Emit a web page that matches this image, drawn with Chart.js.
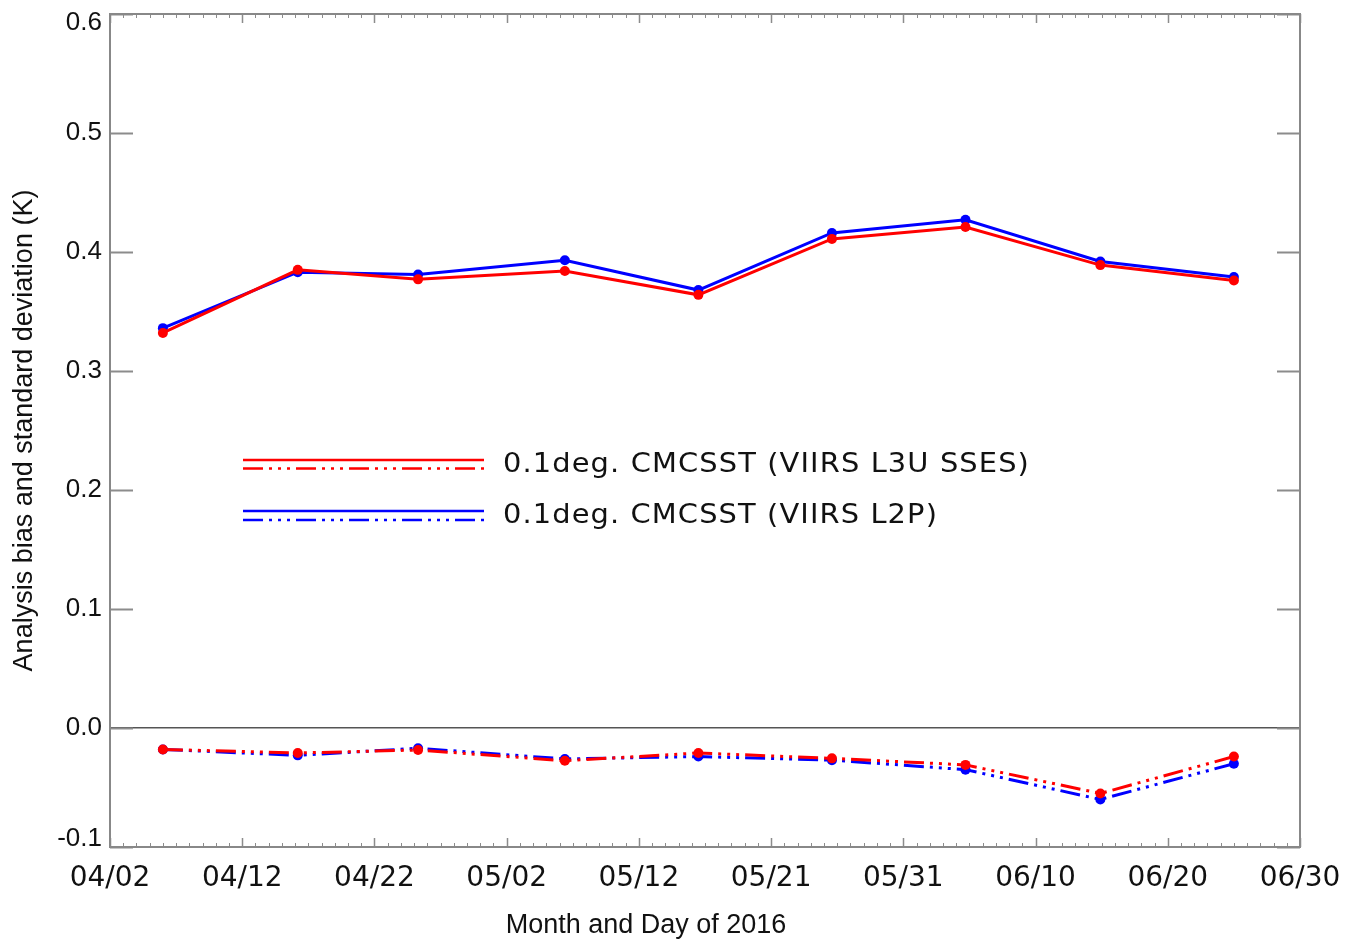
<!DOCTYPE html>
<html>
<head>
<meta charset="utf-8">
<script src="https://cdn.jsdelivr.net/npm/chart.js@4/dist/chart.umd.min.js"></script>
<style>
html,body{margin:0;padding:0;background:#fff;}
#wrap{width:1345px;height:940px;position:relative;}
</style>
</head>
<body>
<div id="wrap"><canvas id="c" width="1345" height="940"></canvas></div>
<script>
// ---- data ----
const xTickLabels = ['04/02','04/12','04/22','05/02','05/12','05/21','05/31','06/10','06/20','06/30'];
const xPositions = [4.0, 14.2, 23.3, 34.4, 44.5, 54.6, 64.7, 74.9, 85.0];
const stdL3U  = [0.332, 0.385, 0.377, 0.384, 0.364, 0.411, 0.421, 0.389, 0.376];
const stdL2P  = [0.336, 0.383, 0.381, 0.393, 0.368, 0.416, 0.427, 0.392, 0.379];
const biasL3U = [-0.018, -0.021, -0.0185, -0.0275, -0.021, -0.0255, -0.031, -0.055, -0.024];
const biasL2P = [-0.018, -0.023, -0.017, -0.026, -0.024, -0.027, -0.035, -0.060, -0.030];
const yTickLabels = ['-0.1','0.0','0.1','0.2','0.3','0.4','0.5','0.6'];
const legendLabels = ['0.1deg. CMCSST (VIIRS L3U SSES)', '0.1deg. CMCSST (VIIRS L2P)'];
const xTitle = 'Month and Day of 2016';
const yTitle = 'Analysis bias and standard deviation (K)';

const RED = '#ff0000', BLUE = '#0000ff';
const DASH = [20, 6, 3, 6, 3, 6, 3, 6];

function pts(ys){ return ys.map((y,i)=>({x:xPositions[i], y:y})); }

const common = {
  borderWidth: 3,
  pointRadius: 5,
  pointBorderWidth: 0,
  tension: 0,
  fill: false
};

const frameTicks = {
  id: 'frameTicks',
  beforeDatasetsDraw(chart){
    const ctx = chart.ctx, a = chart.chartArea;
    const xs = chart.scales.x, ys = chart.scales.y;
    ctx.save();
    ctx.strokeStyle = '#8c8c8c';
    ctx.lineWidth = 2;
    for (let i = 0; i < yTickLabels.length; i++){
      const v = -0.1 + i*0.1;
      const p = Math.round(ys.getPixelForValue(v)) + 0.5;
      ctx.beginPath();
      ctx.moveTo(a.left, p); ctx.lineTo(a.left + 23, p);
      ctx.moveTo(a.right, p); ctx.lineTo(a.right - 23, p);
      ctx.stroke();
    }
    for (let d = 0; d <= 90; d++){
      const p = Math.round(xs.getPixelForValue(d)) + 0.5;
      const major = d % 10 === 0;
      const len = major ? 9 : 4;
      ctx.lineWidth = major ? 1.5 : 1;
      ctx.beginPath();
      ctx.moveTo(p, a.bottom); ctx.lineTo(p, a.bottom - len);
      ctx.moveTo(p, a.top); ctx.lineTo(p, a.top + len);
      ctx.stroke();
    }
    ctx.lineWidth = 2;
    ctx.strokeStyle = '#888';
    ctx.strokeRect(a.left, a.top, a.right - a.left, a.bottom - a.top);
    ctx.restore();
  },
  afterDraw(chart){
    const ctx = chart.ctx, a = chart.chartArea;
    ctx.save();
    ctx.fillStyle = '#111';
    ctx.font = '27px "Liberation Sans", Arial, sans-serif';
    ctx.textAlign = 'center';
    ctx.textBaseline = 'middle';
    ctx.fillText(xTitle, 646, 926);
    ctx.save();
    ctx.translate(25, (a.top + a.bottom)/2);
    ctx.rotate(-Math.PI/2);
    ctx.fillText(yTitle, 0, 0);
    ctx.restore();
    const rows = [
      {color: RED,  ySolid: 460, yDash: 468.5, base: 472, text: legendLabels[0], target: 527},
      {color: BLUE, ySolid: 511, yDash: 520,   base: 523, text: legendLabels[1], target: 435}
    ];
    rows.forEach(r => {
      ctx.strokeStyle = r.color;
      ctx.lineWidth = 2.4;
      ctx.setLineDash([]);
      ctx.beginPath(); ctx.moveTo(243, r.ySolid); ctx.lineTo(484, r.ySolid); ctx.stroke();
      ctx.setLineDash(DASH);
      ctx.beginPath(); ctx.moveTo(243, r.yDash); ctx.lineTo(484, r.yDash); ctx.stroke();
      ctx.setLineDash([]);
      ctx.fillStyle = '#111';
      ctx.font = '26px "DejaVu Sans", sans-serif';
      ctx.textAlign = 'left';
      ctx.textBaseline = 'alphabetic';
      ctx.letterSpacing = '1px';
      const w = ctx.measureText(r.text).width;
      const sx = r.target / w;
      ctx.save();
      ctx.translate(503, r.base);
      ctx.scale(sx, 1);
      ctx.fillText(r.text, 0, 0);
      ctx.restore();
      ctx.letterSpacing = '0px';
    });
    ctx.restore();
  }
};

new Chart(document.getElementById('c'), {
  type: 'line',
  data: {
    datasets: [
      Object.assign({label: 'L3U std', data: pts(stdL3U), borderColor: RED, backgroundColor: RED, pointBackgroundColor: RED}, common),
      Object.assign({label: 'L2P std', data: pts(stdL2P), borderColor: BLUE, backgroundColor: BLUE, pointBackgroundColor: BLUE}, common),
      Object.assign({label: 'L3U bias', data: pts(biasL3U), borderColor: RED, backgroundColor: RED, pointBackgroundColor: RED, borderDash: DASH}, common),
      Object.assign({label: 'L2P bias', data: pts(biasL2P), borderColor: BLUE, backgroundColor: BLUE, pointBackgroundColor: BLUE, borderDash: DASH}, common)
    ]
  },
  options: {
    responsive: false,
    animation: false,
    devicePixelRatio: 1,
    layout: {padding: {left: 0, right: 45, top: 14, bottom: 0}},
    plugins: {legend: {display: false}, tooltip: {enabled: false}, title: {display: false}},
    scales: {
      x: {
        type: 'linear',
        min: 0, max: 90,
        grid: {display: false, drawTicks: false},
        border: {display: false},
        ticks: {
          stepSize: 10,
          autoSkip: false,
          maxRotation: 0, minRotation: 0,
          padding: 15,
          color: '#111',
          font: {family: '"DejaVu Sans", sans-serif', size: 28},
          callback: (v) => xTickLabels[Math.round(v / 10)]
        },
        afterFit: (s) => { s.height = 93; s.paddingLeft = 0; s.paddingRight = 0; }
      },
      y: {
        type: 'linear',
        min: -0.1, max: 0.6,
        grid: {
          drawTicks: false,
          drawOnChartArea: true,
          lineWidth: 1.6,
          color: (c) => (c.tick && Math.abs(c.tick.value) < 1e-9) ? '#555' : 'rgba(0,0,0,0)'
        },
        border: {display: false},
        ticks: {
          stepSize: 0.1,
          padding: 8,
          color: '#111',
          font: (c) => {
            const n = yTickLabels.length - 1;
            const edge = c.index === 0 || c.index === n;
            return {family: '"Liberation Sans", Arial, sans-serif', size: 26, lineHeight: edge ? 0.66 : 1.2};
          },
          callback: (v, i) => {
            const k = Math.round((v + 0.1) * 10);
            const t = yTickLabels[k];
            if (k === yTickLabels.length - 1) return ['', t];
            if (k === 0) return [t, ''];
            return t;
          }
        },
        afterFit: (s) => { s.width = 110; s.paddingTop = 0; s.paddingBottom = 0; }
      }
    }
  },
  plugins: [frameTicks]
});
</script>
</body>
</html>
